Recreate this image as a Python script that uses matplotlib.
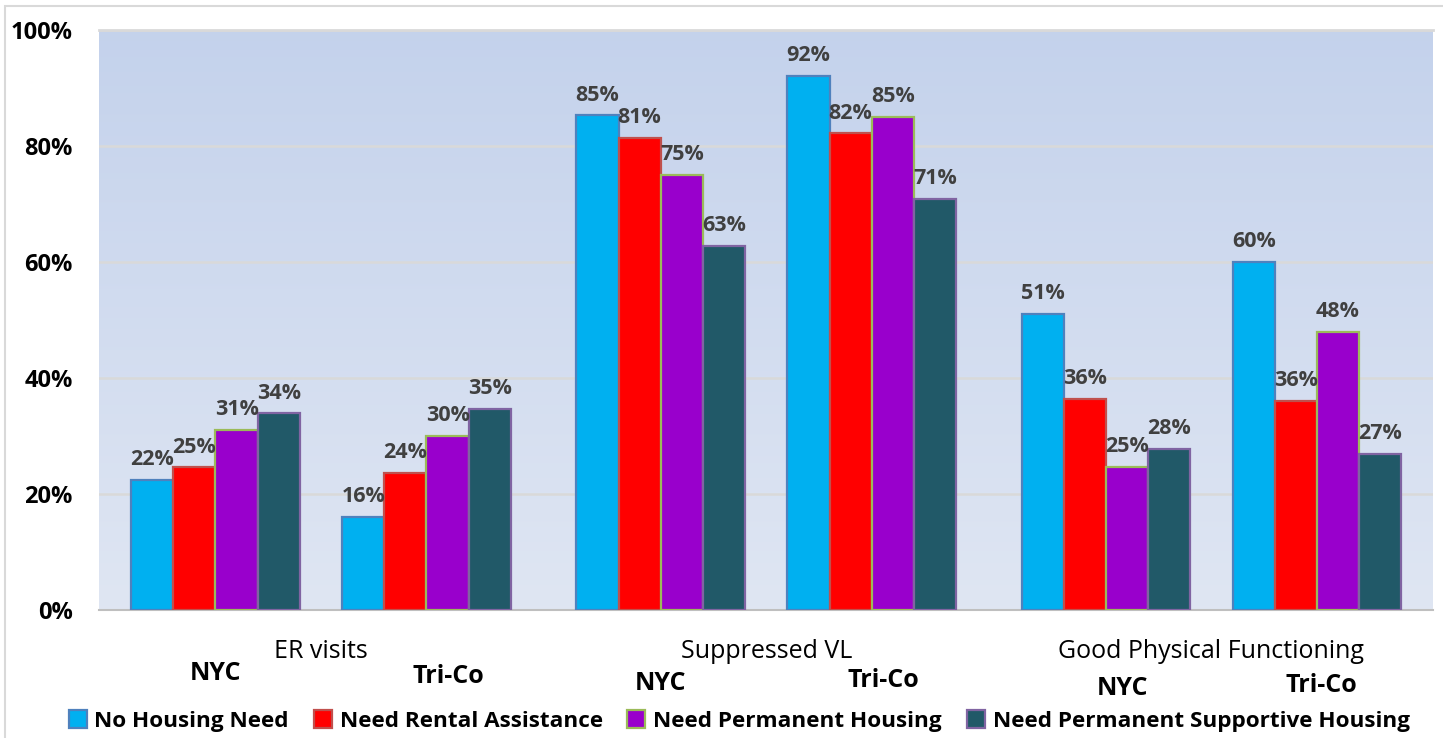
import numpy as np
import matplotlib.pyplot as plt
from matplotlib.patches import Rectangle

plt.rcParams['font.family'] = ['Open Sans', 'DejaVu Sans']

# measures, and the two regions shown within each measure
measures = ["ER visits", "Suppressed VL", "Good Physical Functioning"]
regions = ["NYC", "Tri-Co"]
series = ["No Housing Need", "Need Rental Assistance",
          "Need Permanent Housing", "Need Permanent Supportive Housing"]

# values per series, ordered ER NYC, ER Tri-Co, VL NYC, VL Tri-Co, GPF NYC, GPF Tri-Co
no_housing_need = [0.224, 0.160, 0.853, 0.921, 0.510, 0.600]
need_rental = [0.246, 0.236, 0.814, 0.822, 0.364, 0.360]
need_permanent = [0.311, 0.300, 0.750, 0.850, 0.247, 0.480]
need_supportive = [0.339, 0.347, 0.628, 0.709, 0.278, 0.269]

values = [no_housing_need, need_rental, need_permanent, need_supportive]
face_colors = ["#00b0f0", "#ff0000", "#9900cc", "#215968"]
edge_colors = ["#4f81bd", "#c0504d", "#9bbb59", "#8064a2"]

W, H = 1443, 738
fig = plt.figure(figsize=(W / 100, H / 100), dpi=100)
ax = fig.add_axes([99 / W, 1 - 610 / H, (1433 - 99) / W, (610 - 30) / H])

# light frame round the whole chart
fig.patches.append(Rectangle((5 / W, -0.1), 1.2, 1.1 - 6 / H, transform=fig.transFigure,
                             fill=False, edgecolor="#d9d9d9", linewidth=1.5))

measure_gap = 10.55
cluster_off = 2.5
cluster_x = []
for m in range(len(measures)):
    for r in (-1, 1):
        cluster_x.append(m * measure_gap + r * cluster_off)
cluster_x = np.array(cluster_x)

ax.set_xlim(-5.26, 26.35)
ax.set_ylim(0, 1)

# vertical gradient behind the bars
grad = np.linspace(0, 1, 256).reshape(-1, 1)
top = np.array([0.769, 0.824, 0.925])
bottom = np.array([0.875, 0.902, 0.953])
img = bottom + (top - bottom) * grad
ax.imshow(img[:, None, :].repeat(2, axis=1), extent=[0, 1, 0, 1], origin="lower",
          transform=ax.transAxes, aspect="auto", zorder=0)

for s, vals in enumerate(values):
    xs = cluster_x + (s - 1.5)
    ax.bar(xs, vals, width=1.0, color=face_colors[s], edgecolor=edge_colors[s],
           linewidth=1.6, zorder=3, label=series[s])
    for x, v in zip(xs, vals):
        ax.annotate(f"{v * 100:.0f}%", (x, v), xytext=(0, 7), textcoords="offset points",
                    ha="center", va="bottom", fontsize=15.5, fontweight="bold",
                    color="#404040", zorder=4)

ticks = np.arange(0, 1.01, 0.2)
ax.set_yticks(ticks)
ax.set_yticklabels([f"{t * 100:.0f}%" for t in ticks],
                   fontsize=17, fontweight="bold", color="black")
ax.tick_params(axis="y", length=0, pad=19)
ax.set_xticks([])
ax.grid(axis="y", color="#d9d9d9", linewidth=1.8, zorder=1)
ax.set_axisbelow(True)
for side in ("left", "right"):
    ax.spines[side].set_visible(False)
ax.spines["top"].set_color("#d9d9d9")
ax.spines["top"].set_linewidth(2)
ax.spines["bottom"].set_color("#bfbfbf")
ax.spines["bottom"].set_linewidth(1.5)

# measure names under each pair of clusters
xform = ax.get_xaxis_transform()
for m, name in enumerate(measures):
    ax.text(m * measure_gap, -0.071, name, transform=xform, ha="center", va="center",
            fontsize=18, color="black")

# region names sit loosely under each cluster
region_dx = [0.0, 0.53, 0.0, 0.28, 0.4, 0.1]
region_dy = [-0.109, -0.114, -0.126, -0.121, -0.135, -0.131]
for i, x in enumerate(cluster_x):
    ax.text(x + region_dx[i], region_dy[i], regions[i % 2], transform=xform,
            ha="center", va="center", fontsize=18, fontweight="bold", color="black")

fig.legend(loc="center", bbox_to_anchor=(739 / W, 1 - 721 / H), ncol=4,
           frameon=False, prop={"size": 16.2, "weight": "bold"},
           handlelength=0.8, handleheight=0.8, handletextpad=0.35,
           columnspacing=1.1)

fig.savefig("out.png", dpi=100)
